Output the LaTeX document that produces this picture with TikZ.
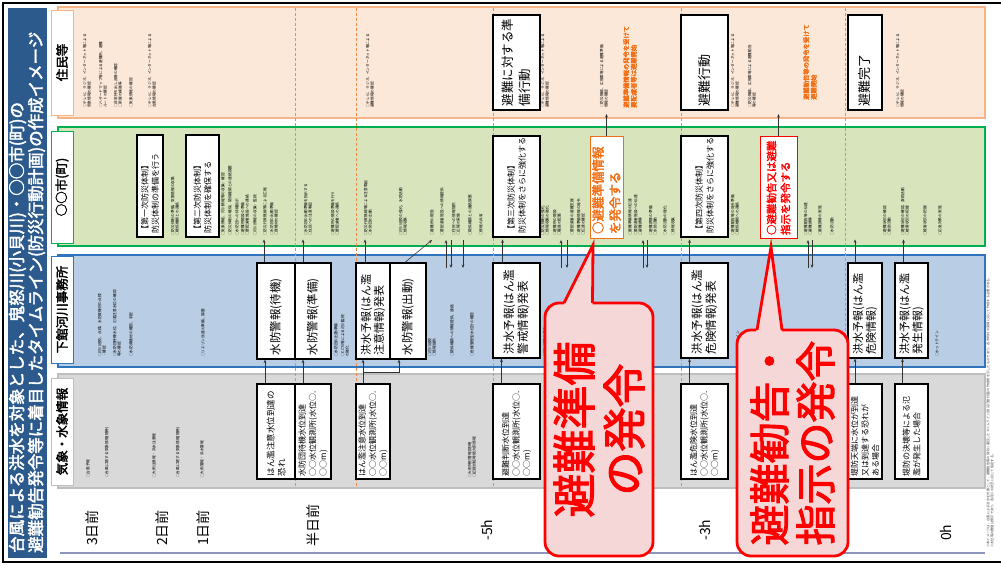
\documentclass[tikz,border=0pt]{standalone}
\usepackage{fontspec}
\setmainfont{Noto Sans CJK JP}[AutoFakeBold=2.5]
\usetikzlibrary{calc,arrows.meta}
\definecolor{tblue}{RGB}{44,90,140}
\definecolor{ofill}{RGB}{252,232,216}
\definecolor{oline}{RGB}{247,180,135}
\definecolor{gfill}{RGB}{216,228,188}
\definecolor{gline}{RGB}{0,176,80}
\definecolor{bfill}{RGB}{185,205,228}
\definecolor{bline}{RGB}{46,117,190}
\definecolor{kfill}{RGB}{217,217,217}
\definecolor{kline}{RGB}{190,190,190}
\definecolor{dorange}{RGB}{240,140,70}
\definecolor{cred}{RGB}{255,0,0}
\definecolor{cfill}{RGB}{245,215,215}
\definecolor{otext}{RGB}{240,110,20}
\definecolor{axisc}{RGB}{140,150,190}
\begin{document}
\begin{tikzpicture}[x=1pt,y=-1pt,
  band/.style={inner sep=0pt, line width=1.6pt},
  lab/.style={rotate=90, fill=white, line width=1pt, inner sep=1pt, minimum height=22, font=\bfseries\fontsize{12.5}{14}\selectfont},
  wbox/.style={draw=black, line width=1.2pt, fill=white, rotate=90, inner sep=2pt, align=left},
  vb/.style n args={3}{wbox, minimum width=#1, minimum height=#2, text width=#3},
  tt/.style={rotate=90, anchor=west, inner sep=0pt, align=left, font=\fontsize{3.7}{4.4}\selectfont, text=black},
  arr/.style={-{Stealth[length=3.5pt,width=2.8pt]}, line width=0.6pt, draw=black!80},
  dline/.style={draw=dorange, line width=0.7pt, dash pattern=on 3pt off 2pt},
  callout/.style={draw=cred, line width=2.8pt, fill=cfill, rounded corners=14pt, rotate=90, inner sep=0pt, align=center, text=cred},
  axlab/.style={rotate=90, anchor=west, inner sep=0pt, font=\fontsize{14}{16}\selectfont}
]
\useasboundingbox (0,0) rectangle (1001,565);
\fill[white] (0,0) rectangle (1001,565);
% frame
\draw[line width=2.5pt] (1003,3) -- (3,3) -- (3,562) -- (1003,562);
% title band
\fill[tblue] (8,8) rectangle (47,558);
\node[rotate=90, anchor=west, align=left, inner sep=0pt, text=white, font=\bfseries\fontsize{16.5}{19}\selectfont] (title) at (27,553)
 {台風による洪水を対象とした、鬼怒川(小貝川)・○○市(町)の\\避難勧告発令等に着目したタイムライン(防災行動計画)の作成イメージ};
% bands
\node[band, fill=ofill, draw=oline, minimum width=927, minimum height=111] (rowO) at (521.5,62.5) {};
\node[band, fill=gfill, draw=gline, minimum width=927, minimum height=119] (rowG) at (521.5,186.5) {};
\node[band, fill=bfill, draw=bline, minimum width=927, minimum height=112] (rowB) at (521.5,311) {};
\node[band, fill=kfill, draw=kline, minimum width=927, minimum height=114] (rowK) at (521.5,431) {};
% time division lines
\foreach \x in {295,356,493,681,845} {\draw[dline] (\x,8) -- (\x,488);}
% row labels
\node[lab, draw=oline, minimum width=105] (lO) at (62,62.5) {住民等};
\node[lab, draw=gline, minimum width=112] (lG) at (62,187) {○○市(町)};
\node[lab, draw=bline, minimum width=107] (lB) at (62,309.5) {下館河川事務所};
\node[lab, draw=kline, minimum width=107] (lK) at (62,431.5) {気象・水象情報};
% small texts: residents
\foreach \x/\t [count=\i] in {
 87/○テレビ、ラジオ、インターネット等による\\気象情報の確認,
 103/○ハザードマップ等による避難所、避難\\ルートの確認,
 118/○非常持ち出し品等の確認\\○家屋の補強等,
 131/○気象情報の確認,
 152/○テレビ、ラジオ、インターネット等による\\台風情報の確認,
 370/○テレビ、ラジオ、インターネット等による\\避難情報の確認,
 545/○テレビ、ラジオ、インターネット等による\\避難情報の確認,
 604/○防災無線、広報車等による避難準備\\情報の確認,
 735/○テレビ、ラジオ、インターネット等による\\避難情報の確認,
 752/○防災無線、広報車等による避難勧告\\等の確認,
 900/○テレビ、ラジオ、インターネット等による\\情報の確認}
 {\node[tt] (tO\i) at (\x,108) {\t};}
\node[tt, text=otext, font=\bfseries\fontsize{6.3}{7.5}\selectfont] (oNote1) at (630,108) {避難準備情報の発令を受けて\\要配慮者等は避難開始};
\node[tt, text=otext, font=\bfseries\fontsize{6.3}{7.5}\selectfont] (oNote2) at (810,100) {避難勧告等の発令を受けて\\避難開始};
% small texts: city
\foreach \x/\t [count=\i] in {
 175/○防災体制の準備、気象情報の収集\\○関係機関との連絡,
 223/○気象情報、河川情報等の収集・確認,
 230/○防災体制の確保、関係機関との連絡調整,
 237/○水防団への待機指示,
 245/○避難所開設の準備\\○要配慮者施設への連絡,
 255/○河川情報の収集・監視,
 265/○防災行政無線等による広報,
 274/○水防団の出動準備\\○資機材の確認,
 308/○水防団の出動準備を指示する\\○住民への注意喚起,
 335/○避難所の開設準備を行う\\○要配慮者への連絡,
 368/○防災行政無線等による注意喚起\\○水防団の出動,
 403/○河川巡視の強化、水防活動\\○情報収集,
 432/○避難所の開設,
 442/○要配慮者施設への情報提供,
 456/○住民への情報提供\\○広報の実施,
 470/○関係機関との連絡調整,
 481/○情報の共有,
 545/○防災体制の強化\\○情報収集の強化,
 557/○避難所の開設\\○職員の配置,
 572/○要配慮者の避難支援,
 581/○避難準備情報の発令\\○伝達の確認,
 630/○避難準備情報の伝達,
 638/○要配慮者施設への伝達\\○避難誘導,
 653/○避難誘導の準備\\○水防活動,
 665/○水防活動の強化,
 673/○情報収集,
 735/○避難勧告等の発令準備\\○関係機関への連絡,
 808/○避難勧告等の伝達\\○避難誘導,
 820/○避難誘導の実施,
 832/○水防活動,
 887/○避難状況の確認\\○救助活動,
 905/○避難状況の確認、救助活動\\○被害状況の把握,
 925/○被害状況の把握,
 940/○応急対策の実施}
 {\node[tt] (tG\i) at (\x,236) {\t};}
% small texts: river office
\foreach \x/\t [count=\i] in {
 102/○河川巡視、点検、水防資機材の点検\\・確認,
 117/○水防団待機水位、氾濫注意水位の確認\\等の確認,
 131/○水防資機材の確認、手配,
 203/○リエゾン派遣の準備、調整,
 336/○水防団の出動準備,
 345/○CCTV等による河川監視\\の強化,
 432/○河川巡視\\○情報提供,
 452/○関係機関への情報提供、連絡,
 472/○危機管理型水位計の確認,
 547/○河川巡視の強化\\○情報提供,
 563/○避難判断水位到達の\\情報提供,
 740/○ホットライン\\○情報提供,
 822/○ホットライン,
 937/○ホットライン}
 {\node[tt] (tB\i) at (\x,357) {\t};}
% small texts: weather
\foreach \x/\t [count=\i] in {
 88/○台風予報,
 107/○台風に関する気象情報(随時),
 154/○大雨注意報・洪水注意報,
 178/○台風に関する気象情報(随時),
 202/○大雨警報・洪水警報,
 472/○大雨特別警報(随時)\\○記録的短時間大雨情報}
 {\node[tt] (tK\i) at (\x,478) {\t};}
% footnote at right edge
\node[tt, text=black!70, font=\fontsize{3.3}{4}\selectfont] (foot) at (990,548) {※本イメージは、台風による洪水を対象として、避難勧告等の発令に着目したタイムライン(防災行動計画)の作成例を示したものであり、各市町村の実情に応じて作成する必要がある。\\※水位等の数値は例示であり、各河川の状況に応じて設定する。};
% residents boxes
\node[vb={95}{47}{87pt}, font=\fontsize{12.5}{17}\selectfont] (o1) at (516.5,62.5) {避難に対する準\\備行動};
\node[vb={95}{47}{87pt}, font=\fontsize{13}{17}\selectfont] (o2) at (704.5,62.5) {避難行動};
\node[vb={95}{34}{87pt}, font=\fontsize{13}{17}\selectfont] (o3) at (865,62.5) {避難完了};
% city boxes
\node[vb={102}{26}{94pt}, font=\fontsize{8}{10.5}\selectfont] (g1) at (150,186) {【第一次防災体制】\\防災体制の準備を行う};
\node[vb={102}{33}{94pt}, font=\fontsize{8}{10.5}\selectfont] (g2) at (202.5,186) {【第二次防災体制】\\防災体制を確保する};
\node[vb={101}{47}{94pt}, font=\fontsize{8}{11}\selectfont] (g3) at (516.5,186.5) {【第三次防災体制】\\防災体制をさらに強化する};
\node[vb={102}{33}{94pt}, draw=otext, line width=1pt, text=otext, font=\bfseries\fontsize{12.5}{17}\selectfont] (gp) at (606.5,187) {○避難準備情報\\を発令する};
\node[vb={101}{47}{94pt}, font=\fontsize{8}{11}\selectfont] (g4) at (704.5,186.5) {【第四次防災体制】\\防災体制をさらに強化する};
\node[vb={102}{37}{96pt}, draw=cred, line width=1pt, text=cred, font=\bfseries\fontsize{10.5}{14}\selectfont] (gr) at (778.5,187) {○避難勧告又は避難\\指示を発令する};
% river office boxes
\node[vb={96}{38}{88pt}, font=\fontsize{11.5}{14}\selectfont] (b1) at (276,311) {水防警報(待機)};
\node[vb={96}{36}{88pt}, font=\fontsize{11.5}{14}\selectfont] (b2) at (313,311) {水防警報(準備)};
\node[vb={96}{34}{88pt}, font=\fontsize{11}{13}\selectfont] (b3) at (373,311) {洪水予報(はん濫\\注意情報)発表};
\node[vb={96}{36}{88pt}, font=\fontsize{11.5}{14}\selectfont] (b4) at (408,311) {水防警報(出動)};
\node[vb={95}{47}{87pt}, font=\fontsize{11.5}{14}\selectfont] (b5) at (516.5,310.5) {洪水予報(はん濫\\警戒情報)発表};
\node[vb={95}{47}{87pt}, font=\fontsize{11.5}{14}\selectfont] (b6) at (704.5,310.5) {洪水予報(はん濫\\危険情報)発表};
\node[vb={95}{34}{87pt}, font=\fontsize{11}{13}\selectfont] (b7) at (865,310.5) {洪水予報(はん濫\\危険情報)};
\node[vb={95}{33}{87pt}, font=\fontsize{11}{13}\selectfont] (b8) at (911.5,310.5) {洪水予報(はん濫\\発生情報)};
% weather boxes
\node[vb={95}{38}{89pt}, font=\fontsize{8.5}{11}\selectfont] (k1) at (276,431.5) {はん濫注意水位到達の\\恐れ};
\node[vb={95}{36}{89pt}, font=\fontsize{8}{10.5}\selectfont] (k2) at (313,431.5) {水防団待機水位到達\\○○水位観測所(水位○.\\○○m)};
\node[vb={95}{34}{89pt}, font=\fontsize{8}{10.5}\selectfont] (k3) at (373,431.5) {はん濫注意水位到達\\○○水位観測所(水位○.\\○○m)};
\node[vb={95}{47}{89pt}, font=\fontsize{8}{10.5}\selectfont] (k5) at (516.5,431.5) {避難判断水位到達\\○○水位観測所(水位○.\\○○m)};
\node[vb={95}{47}{89pt}, font=\fontsize{8}{10.5}\selectfont] (k6) at (704.5,431.5) {はん濫危険水位到達\\○○水位観測所(水位○.\\○○m)};
\node[vb={95}{34}{89pt}, font=\fontsize{8}{10.5}\selectfont] (k7) at (865,431.5) {堤防天端に水位が到達\\又は到達する恐れが\\ある場合};
\node[vb={95}{33}{89pt}, font=\fontsize{8}{10.5}\selectfont] (k8) at (911.5,431.5) {堤防の決壊等による氾\\濫が発生した場合};
% arrows weather -> river office
\foreach \k/\b/\s in {k1/b1/-11,k2/b2/-10,k5/b5/-15,k6/b6/-15,k7/b7/-10,k8/b8/-9}
 {\draw[arr] ($(\k.east)+(\s,0)$) -- ($(\b.west)+(\s,0)$);}
\coordinate (j3) at (363,372);
\draw[arr] ($(k3.east)+(-10,0)$) -- ($(b3.west)+(-10,0)$);
\draw[arr] (j3) -| ($(b4.west)+(-9,0)$);
% arrows river office -> city
\foreach \b/\s in {b1/-12,b2/-10,b3/-8,b5/-14,b6/-15,b7/-10,b8/-8}
 {\draw[arr] ($(\b.east)+(\s,0)$) -- ($(\b.east)+(\s,-23)$);}
\coordinate (gd1) at (432,240);
\draw[arr] ($(b4.east)+(-3,0)$) -- (gd1);
\foreach \x [count=\i] in {446,561,643,808}
 {\coordinate (ua\i) at (\x,268); \coordinate (ub\i) at (\x,240); \draw[arr] (ua\i) -- (ub\i);}
\foreach \x [count=\i] in {451,463,567,647,812}
 {\coordinate (da\i) at (\x,240); \coordinate (db\i) at (\x,268); \draw[arr] (da\i) -- (db\i);}
% city -> residents
\coordinate (oa1) at (606.5,114);
\coordinate (oa2) at (778.5,114);
\draw[arr] (gp.east) -- (oa1);
\draw[arr] (gr.east) -- (oa2);
% time axis
\draw[axisc, line width=1.6pt] (60,553) -- (985,553);
\node[axlab] (t3) at (92,546) {3日前};
\node[axlab] (t2) at (162,546) {2日前};
\node[axlab] (t1) at (203,546) {1日前};
\node[axlab] (th) at (313,547) {半日前};
\node[axlab] (t5) at (487,541) {-5h};
\node[axlab] (t33) at (705,541) {-3h};
\node[axlab] (t0) at (946,541) {0h};
% callout 1
\node[callout, minimum width=253, minimum height=108, font=\bfseries\fontsize{44}{50}\selectfont] (c1) at (599,429.5) {避難準備\\の発令};
\coordinate (tip1) at (593,245);
\fill[cfill] (563,306) -- (tip1) -- (592.5,306) -- cycle;
\draw[cred, line width=2.8pt, line join=miter] (564,303) -- (tip1) -- (592.5,303);
% callout 2
\node[callout, minimum width=226, minimum height=111, font=\bfseries\fontsize{41}{46}\selectfont] (c2) at (792.5,443) {避難勧告・\\指示の発令};
\coordinate (tip2) at (771,247);
\fill[cfill] (756,333) -- (tip2) -- (782,333) -- cycle;
\draw[cred, line width=2.8pt, line join=miter] (757,330) -- (tip2) -- (782,330);
\end{tikzpicture}
\end{document}
